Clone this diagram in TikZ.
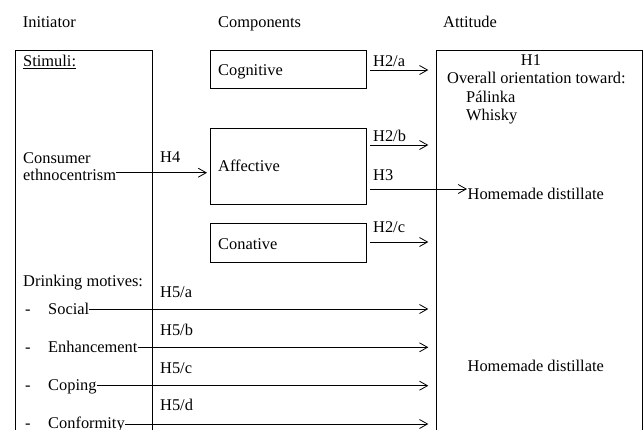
\documentclass[tikz,border=0pt]{standalone}
\usepackage{fontspec}
\setmainfont{Liberation Serif}
\usetikzlibrary{arrows.meta}
\tikzset{
  txt/.style={inner sep=0pt, anchor=base west, font=\fontsize{16.4}{19}\selectfont},
  box/.style={draw, line width=0.8pt, inner sep=0pt, anchor=north west},
  arr/.style={line width=0.8pt, -{Straight Barb[length=8pt,width=9pt,line width=0.8pt]}},
}
\begin{document}
\begin{tikzpicture}[x=1pt,y=-1pt]
\useasboundingbox (0,0) rectangle (643,429);
\clip (0,0) rectangle (643,429);
% headers
\node[txt] (hInit) at (22.7,27.7) {Initiator};
\node[txt] (hComp) at (218,27.7) {Components};
\node[txt] (hAtt) at (443,27.7) {Attitude};
% boxes
\node[box, minimum width=137pt, minimum height=420pt] (init) at (15,50) {};
\node[box, minimum width=206pt, minimum height=420pt] (att) at (435.5,50) {};
\node[box, minimum width=156pt, minimum height=38pt] (cog) at (210,50) {};
\node[box, minimum width=156pt, minimum height=76pt] (aff) at (210,127.7) {};
\node[box, minimum width=156pt, minimum height=39pt] (con) at (210,223) {};
% left texts
\node[txt] (stim) at (23,66.7) {\underline{Stimuli:}};
\node[txt] (cons) at (23,163.3) {Consumer};
\node[txt] (ethno) at (23,180) {ethnocentrism};
\node[txt] (drink) at (23,286) {Drinking motives:};
\node[txt] (d1) at (25,314) {-};
\node[txt] (social) at (48,314) {Social};
\node[txt] (d2) at (25,352.3) {-};
\node[txt] (enh) at (48,352.3) {Enhancement};
\node[txt] (d3) at (25,390.7) {-};
\node[txt] (coping) at (48,390.7) {Coping};
\node[txt] (d4) at (25,428.5) {-};
\node[txt] (conf) at (48,428.5) {Conformity};
% component texts
\node[txt] (tcog) at (218,75) {Cognitive};
\node[txt] (taff) at (218,171.7) {Affective};
\node[txt] (tcon) at (218,249.3) {Conative};
% attitude texts
\node[txt, anchor=base] (h1) at (531,65) {H1};
\node[txt] (overall) at (447,83.3) {Overall orientation toward:};
\node[txt] (pal) at (466,102.7) {Pálinka};
\node[txt] (whi) at (466,120.7) {Whisky};
\node[txt] (home1) at (467.5,199) {Homemade distillate};
\node[txt] (home2) at (467.5,371.7) {Homemade distillate};
% arrow end points
\coordinate (tA) at (428.3,70);
\coordinate (tB) at (428.3,145);
\coordinate (tH3) at (467,189);
\coordinate (tC) at (428.3,242);
\coordinate (t4) at (207,172.7);
\coordinate (t5a) at (428.3,309);
\coordinate (t5b) at (428.3,347.3);
\coordinate (t5c) at (428.3,385.7);
\coordinate (t5d) at (428.3,424);
% arrows
\draw[arr] ([xshift=3pt]cog.east |- tA) -- (tA);
\draw[arr] ([xshift=3pt]aff.east |- tB) -- (tB);
\draw[arr] ([xshift=3pt]aff.east |- tH3) -- (tH3);
\draw[arr] ([xshift=3pt]con.east |- tC) -- (tC);
\draw[arr] (ethno.east |- t4) -- (t4);
\draw[arr] (social.east |- t5a) -- (t5a);
\draw[arr] (enh.east |- t5b) -- (t5b);
\draw[arr] (coping.east |- t5c) -- (t5c);
\draw[arr] (conf.east |- t5d) -- (t5d);
% labels
\node[txt] (lA) at (373,66.3) {H2/a};
\node[txt] (lB) at (373,141.7) {H2/b};
\node[txt] (lH3) at (373,180) {H3};
\node[txt] (lC) at (373,232.7) {H2/c};
\node[txt] (l4) at (160,162.3) {H4};
\node[txt] (l5a) at (160,297.3) {H5/a};
\node[txt] (l5b) at (160,335) {H5/b};
\node[txt] (l5c) at (160,373.3) {H5/c};
\node[txt] (l5d) at (160,410) {H5/d};
\end{tikzpicture}
\end{document}
